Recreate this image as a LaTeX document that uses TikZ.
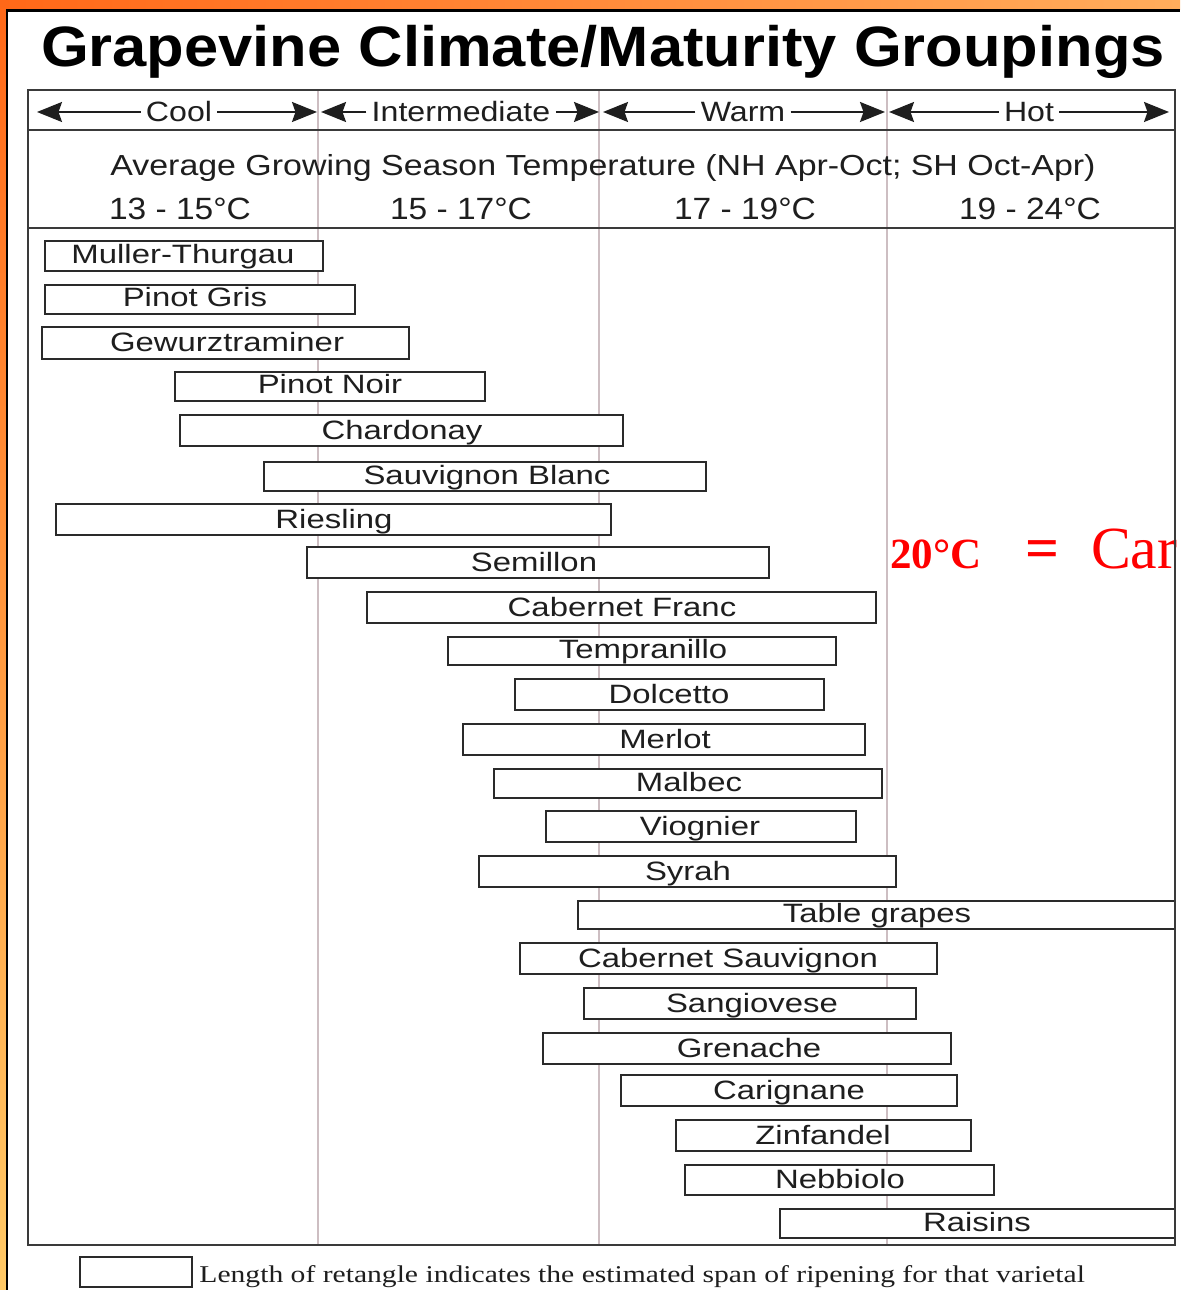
\documentclass[tikz,border=0pt]{standalone}
\usepackage{fontspec}
\setmainfont{Liberation Sans}
\newfontfamily\timesfont{Liberation Serif}
\usepackage{xcolor}
\usetikzlibrary{arrows.meta}

\definecolor{orangedark}{HTML}{FF6818}
\definecolor{orangelight}{HTML}{FFAD5C}
\definecolor{orangeyellow}{HTML}{FFC966}
\definecolor{framegray}{HTML}{3A3A3A}
\definecolor{barline}{HTML}{2A2A2A}
\definecolor{gridpink}{HTML}{CDBEC2}
\definecolor{inkgray}{HTML}{1E1E1E}

% one varietal: name, left, right, top, bottom, label x, label
\newcommand{\Grape}[7]{%
	\draw[bar] (#2,#4) rectangle (#3,#5);
	\node[grape] (#1) at (#6,#5-7) {#7};
}

\begin{document}
\begin{tikzpicture}[x=0.02cm, y=-0.02cm,
	bar/.style			= {draw=barline, line width=1.2pt, fill=white},
	grape/.style		= {anchor=base, inner sep=0pt, xscale=1.24, text=inkgray,
							font=\fontsize{15.1}{18}\selectfont},
	frame/.style		= {draw=framegray, line width=1.4pt},
	gridline/.style		= {draw=gridpink, line width=0.9pt},
	zone/.style			= {draw=inkgray, line width=1.1pt,
							-{Stealth[length=0.5cm, width=0.4cm, inset=0.07cm]}},
	zonelabel/.style	= {inner xsep=2.5pt, inner ysep=0pt, xscale=1.15, text=inkgray,
							font=\fontsize{15.9}{18}\selectfont},
	temp/.style			= {anchor=base, inner sep=0pt, xscale=1.09, text=inkgray,
							font=\fontsize{17.5}{20}\selectfont}]
	%\draw[help lines] (0,0) grid[step=100] (1180,1290);
	\useasboundingbox (0,0) rectangle (1180,1290);
	
	% slide frame
	\fill[white] (0,0) rectangle (1180,1290);
	\shade[left color=orangedark, right color=orangelight] (0,0) rectangle (1180,10);
	\shade[top color=orangedark, bottom color=orangeyellow] (0,0) rectangle (6,1290);
	\draw[black, line width=1.7pt] (7,1290) -- (7,10.5) -- (1180,10.5);
	
	\node[anchor=base, inner sep=0pt, xscale=1.08, font=\bfseries\fontsize{32.4}{36}\selectfont]
		(title) at (603,67) {Grapevine Climate/Maturity Groupings};
	
	\draw[gridline] (318,90) -- (318,1245);
	\draw[gridline] (599,90) -- (599,1245);
	\draw[gridline] (887,90) -- (887,1245);
	
	\Grape{mt}{45}{323}{241}{271}{183}{Muller-Thurgau}
	\Grape{pg}{45}{355}{285}{314}{195}{Pinot Gris}
	\Grape{gw}{42}{409}{327}{359}{227}{Gewurztraminer}
	\Grape{pn}{175}{485}{372}{401}{330}{Pinot Noir}
	\Grape{ch}{180}{623}{415}{446}{402}{Chardonay}
	\Grape{sb}{264}{706}{462}{491}{487}{Sauvignon Blanc}
	\Grape{rs}{56}{611}{504}{535}{334}{Riesling}
	\Grape{se}{307}{769}{547}{578}{534}{Semillon}
	\Grape{cf}{367}{876}{592}{623}{622}{Cabernet Franc}
	\Grape{te}{448}{836}{637}{665}{643}{Tempranillo}
	\Grape{dc}{515}{824}{679}{710}{669}{Dolcetto}
	\Grape{me}{463}{865}{724}{755}{665}{Merlot}
	\Grape{ma}{494}{882}{769}{798}{689}{Malbec}
	\Grape{vi}{546}{856}{811}{842}{700}{Viognier}
	\Grape{sy}{479}{896}{856}{887}{688}{Syrah}
	\Grape{tg}{578}{1175}{901}{929}{877}{Table grapes}
	\Grape{cs}{520}{937}{943}{974}{728}{Cabernet Sauvignon}
	\Grape{sg}{584}{916}{988}{1019}{752}{Sangiovese}
	\Grape{gr}{543}{951}{1033}{1064}{749}{Grenache}
	\Grape{ca}{621}{957}{1075}{1106}{789}{Carignane}
	\Grape{zi}{676}{971}{1120}{1151}{823}{Zinfandel}
	\Grape{ne}{685}{994}{1165}{1195}{840}{Nebbiolo}
	\Grape{ra}{780}{1175}{1209}{1238}{977}{Raisins}
	
	\node[anchor=base west, inner sep=0pt, text=red, font=\timesfont\bfseries\fontsize{24.5}{28}\selectfont]
		(temp20) at (890,568) {20°C};
	\node[anchor=base west, inner sep=0pt, text=red, font=\timesfont\fontsize{34}{40}\selectfont]
		(tempcar) at (1025,568) {{\bfseries =}\hspace{0.53em}Car};
	
	\draw[frame] (28,90) rectangle (1175,1245);
	\draw[frame] (28,130) -- (1175,130);
	\draw[frame] (28,228) -- (1175,228);
	
	% climate zones
	\node[zonelabel] (cool) at (179,112) {Cool};
	\node[zonelabel] (inter) at (461,112) {Intermediate};
	\node[zonelabel] (warm) at (743,112) {Warm};
	\node[zonelabel] (hot) at (1029,112) {Hot};
	\coordinate (cool-l) at (37,112);
	\coordinate (cool-r) at (317,112);
	\coordinate (inter-l) at (321,112);
	\coordinate (inter-r) at (599,112);
	\coordinate (warm-l) at (603,112);
	\coordinate (warm-r) at (885,112);
	\coordinate (hot-l) at (889,112);
	\coordinate (hot-r) at (1169,112);
	\draw[zone] (cool.west |- cool-l) -- (cool-l);
	\draw[zone] (cool.east |- cool-r) -- (cool-r);
	\draw[zone] (inter.west |- inter-l) -- (inter-l);
	\draw[zone] (inter.east |- inter-r) -- (inter-r);
	\draw[zone] (warm.west |- warm-l) -- (warm-l);
	\draw[zone] (warm.east |- warm-r) -- (warm-r);
	\draw[zone] (hot.west |- hot-l) -- (hot-l);
	\draw[zone] (hot.east |- hot-r) -- (hot-r);
	
	\node[anchor=base, inner sep=0pt, xscale=1.17, text=inkgray, font=\fontsize{16.5}{20}\selectfont]
		(season) at (603,176) {Average Growing Season Temperature (NH Apr-Oct; SH Oct-Apr)};
	\node[temp] (t1) at (180,220) {13 - 15°C};
	\node[temp] (t2) at (461,220) {15 - 17°C};
	\node[temp] (t3) at (745,220) {17 - 19°C};
	\node[temp] (t4) at (1030,220) {19 - 24°C};
	
	% legend
	\draw[bar] (80,1257) rectangle (192,1287);
	\node[anchor=base west, inner sep=0pt, xscale=1.23, text=inkgray, font=\timesfont\fontsize{13.7}{16}\selectfont]
		(legend) at (199,1282) {Length of retangle indicates the estimated span of ripening for that varietal};
\end{tikzpicture}
\end{document}
